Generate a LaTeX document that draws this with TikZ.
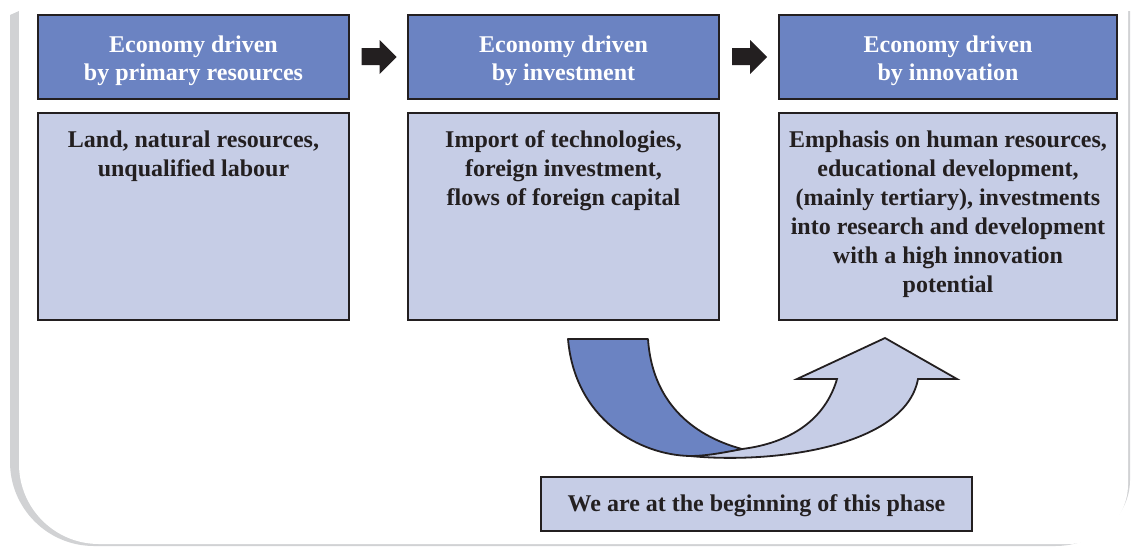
\documentclass[tikz,border=0pt]{standalone}
\usepackage{fontspec}
\setmainfont{Liberation Serif}
\usetikzlibrary{calc}
\definecolor{darkblue}{RGB}{107,131,194}
\definecolor{lightblue}{RGB}{198,205,230}
\definecolor{ink}{RGB}{35,31,32}
\definecolor{shadowgrey}{RGB}{209,210,212}
\tikzset{
  hdrbox/.style={draw=ink, line width=2pt, fill=darkblue, inner sep=0pt},
  hdrtext/.style={text=white, font=\bfseries\fontsize{24}{28}\selectfont, align=center, inner sep=0pt},
  bodybox/.style={draw=ink, line width=2pt, fill=lightblue, inner sep=0pt},
  bodytext/.style={text=ink, font=\bfseries\fontsize{24}{29}\selectfont, align=center, inner sep=0pt, anchor=north},
  blackarrow/.style={fill=ink},
  curvedark/.style={fill=darkblue, draw=ink, line width=1.8pt, line join=round},
  curvelight/.style={fill=lightblue, draw=ink, line width=1.8pt, line join=miter}
}
\begin{document}
\begin{tikzpicture}[x=1pt,y=-1pt]
\useasboundingbox (0,0) rectangle (1131,547);
% frame shadow and white panel
\fill[shadowgrey] (19,11) -- (10,15) -- (10,462) arc[start angle=180,end angle=90,radius=84] -- (1055,546) arc[start angle=90,end angle=0,x radius=75,y radius=66] -- (1130,11) -- cycle;
\fill[white] (19,-10) -- (19,464) arc[start angle=180,end angle=90,radius=80] -- (1068,544) arc[start angle=90,end angle=0,radius=60] -- (1128,-10) -- cycle;
% headers
\node[hdrbox, minimum width=311pt, minimum height=84pt] (h1) at (193.5,57) {};
\node[hdrbox, minimum width=311pt, minimum height=84pt] (h2) at (563.5,57) {};
\node[hdrbox, minimum width=338pt, minimum height=84pt] (h3) at (948,57) {};
\node[hdrtext] (ht1) at ([yshift=-4pt]h1.center) {Economy driven\\by primary resources};
\node[hdrtext] (ht2) at ([yshift=-4pt]h2.center) {Economy driven\\by investment};
\node[hdrtext] (ht3) at ([yshift=-4pt]h3.center) {Economy driven\\by innovation};
% body boxes
\node[bodybox, minimum width=311pt, minimum height=207pt] (b1) at (193.5,216.5) {};
\node[bodybox, minimum width=311pt, minimum height=207pt] (b2) at (563.5,216.5) {};
\node[bodybox, minimum width=338pt, minimum height=207pt] (b3) at (948,216.5) {};
\node[bodytext] (t1) at ([yshift=-18.5pt]b1.north) {Land, natural resources,\\unqualified labour};
\node[bodytext] (t2) at ([yshift=-18.5pt]b2.north) {Import of technologies,\\foreign investment,\\flows of foreign capital};
\node[bodytext] (t3) at ([yshift=-18.5pt]b3.north) {Emphasis on human resources,\\educational development,\\(mainly tertiary), investments\\into research and development\\with a high innovation\\potential};
% black arrows
\coordinate (a1) at ($(h1.east)!0.5!(h2.west)$);
\coordinate (a2) at ($(h2.east)!0.5!(h3.west)$);
\fill[blackarrow] ([shift={(-17,-9)}]a1) -- ([shift={(1,-9)}]a1) -- ([shift={(1,-17)}]a1) -- ([shift={(18,0)}]a1) -- ([shift={(1,17)}]a1) -- ([shift={(1,8)}]a1) -- ([shift={(-17,8)}]a1) -- cycle;
\fill[blackarrow] ([shift={(-17,-9)}]a2) -- ([shift={(1,-9)}]a2) -- ([shift={(1,-17)}]a2) -- ([shift={(18,0)}]a2) -- ([shift={(1,17)}]a2) -- ([shift={(1,8)}]a2) -- ([shift={(-17,8)}]a2) -- cycle;
% curved arrow
\draw[curvelight] (690,456) .. controls (770,464) and (905,448) .. (918,379) -- (957,379) -- (885,338) -- (797,379) -- (837,379) .. controls (825,420) and (790,443) .. (742,449) .. controls (722,452) and (705,455) .. (690,456) -- cycle;
\draw[curvedark] (568,339) -- (648,339) .. controls (652,400) and (690,435) .. (742,449) .. controls (722,453) and (705,456) .. (690,456) .. controls (640,455) and (575,420) .. (568,339) -- cycle;
% bottom note
\node[bodybox, minimum width=431pt, minimum height=54pt] (note) at (756.5,504) {};
\node[text=ink, font=\bfseries\fontsize{24}{28}\selectfont, inner sep=0pt] (notetext) at ([yshift=-2pt]note.center) {We are at the beginning of this phase};
\end{tikzpicture}
\end{document}
